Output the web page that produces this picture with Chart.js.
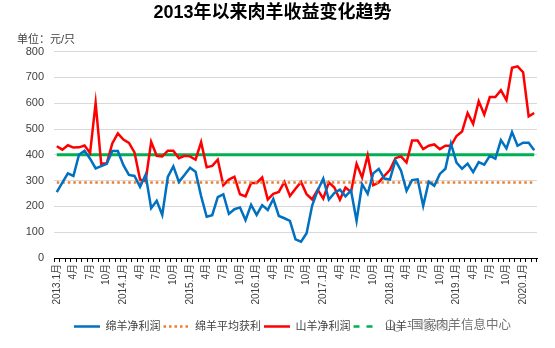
<!DOCTYPE html>
<html>
<head>
<meta charset="utf-8">
<script src="https://cdn.jsdelivr.net/npm/chart.js@4"></script>
<style>
  html, body { margin: 0; padding: 0; background: #fff; }
  #wrap { width: 555px; height: 348px; }
</style>
</head>
<body>
<div id="wrap"><canvas id="chart-rentabilidad"></canvas></div>
<script>
// 月份（2013.1 - 2020.3）
const meses = [
    '2013.1月', '2月', '3月', '4月', '5月', '6月', '7月', '8月', '9月', '10月', '11月', '12月',
    '2014.1月', '2月', '3月', '4月', '5月', '6月', '7月', '8月', '9月', '10月', '11月', '12月',
    '2015.1月', '2月', '3月', '4月', '5月', '6月', '7月', '8月', '9月', '10月', '11月', '12月',
    '2016.1月', '2月', '3月', '4月', '5月', '6月', '7月', '8月', '9月', '10月', '11月', '12月',
    '2017.1月', '2月', '3月', '4月', '5月', '6月', '7月', '8月', '9月', '10月', '11月', '12月',
    '2018.1月', '2月', '3月', '4月', '5月', '6月', '7月', '8月', '9月', '10月', '11月', '12月',
    '2019.1月', '2月', '3月', '4月', '5月', '6月', '7月', '8月', '9月', '10月', '11月', '12月',
    '2020.1月', '2月', '3月'
];

// 绵羊净利润
const mianyangJingli = [
    255, 292, 328, 318, 400, 416, 385, 347, 356, 365, 415, 415,
    360, 322, 318, 276, 323, 193, 222, 167, 314, 355, 295, 322,
    350, 334, 240, 160, 166, 236, 247, 171, 189, 196, 147, 206,
    167, 205, 186, 229, 163, 154, 144, 72, 63, 96, 203, 262,
    308, 226, 252, 265, 239, 262, 144, 286, 249, 328, 345, 308,
    304, 378, 339, 260, 302, 305, 202, 296, 280, 326, 346, 444,
    370, 346, 366, 333, 372, 362, 396, 385, 457, 425, 488, 435,
    447, 447, 418
];

// 山羊净利润
const shanyangJingli = [
    433, 420, 437, 428, 429, 436, 407, 601, 365, 367, 444, 483,
    459, 446, 409, 304, 298, 450, 396, 394, 416, 416, 387, 396,
    394, 381, 449, 352, 357, 381, 282, 304, 315, 247, 239, 291,
    291, 312, 227, 249, 256, 295, 240, 268, 295, 247, 227, 265,
    230, 293, 273, 226, 273, 256, 365, 312, 398, 282, 293, 318,
    341, 387, 394, 370, 455, 455, 422, 435, 440, 422, 435, 435,
    473, 490, 562, 520, 608, 556, 624, 624, 650, 612, 737, 743,
    720, 549, 562
];

// 平均获利
const mianyangPromedio = 293;
const shanyangPromedio = 400;

const yTicks = [0, 100, 200, 300, 400, 500, 600, 700, 800];

const fuente = "'Liberation Sans', 'Noto Sans CJK SC', sans-serif";

const colores = {
    mianyang: '#0070C0',
    mianyangProm: '#ED7D31',
    shanyang: '#FF0000',
    shanyangProm: '#00B050'
};

/**
 * 图例左移一点
 */
const moverLeyenda = {
    id: 'moverLeyenda',
    afterLayout(chart) {
        const lg = chart.legend;
        if (!lg) return;
        lg.left -= 10;
        lg.right -= 10;
        lg.top += 2;
        lg.bottom += 2;
    }
};

/**
 * 单位 + 水印
 */
const textoExtra = {
    id: 'textoExtra',
    afterDraw(chart) {
        const { ctx } = chart;
        ctx.save();
        ctx.font = "11px " + fuente;
        ctx.fillStyle = '#404040';
        ctx.textBaseline = 'middle';
        ctx.textAlign = 'left';
        ctx.fillText('单位：元/只', 17, 40);

        // 水印
        ctx.font = "12.5px " + fuente;
        ctx.lineWidth = 2.5;
        ctx.strokeStyle = 'rgba(255,255,255,0.7)';
        ctx.fillStyle = 'rgba(80,80,80,0.8)';
        ctx.strokeText('国家肉羊信息中心', 411, 326);
        ctx.fillText('国家肉羊信息中心', 411, 326);
        ctx.strokeStyle = 'rgba(120,120,120,0.7)';
        ctx.lineWidth = 1;
        ctx.beginPath();
        ctx.arc(390, 324, 4, 0, Math.PI * 2);
        ctx.stroke();
        ctx.beginPath();
        ctx.arc(397, 328, 3.5, 0, Math.PI * 2);
        ctx.stroke();
        ctx.restore();
    }
};

const ctx = document.getElementById('chart-rentabilidad');

new Chart(ctx, {
    type: 'line',
    data: {
        labels: meses,
        datasets: [
            {
                label: '绵羊净利润',
                data: mianyangJingli,
                borderColor: colores.mianyang,
                borderWidth: 2.5,
                pointRadius: 0,
                tension: 0
            },
            {
                label: '绵羊平均获利',
                data: meses.map(() => mianyangPromedio),
                borderColor: colores.mianyangProm,
                borderWidth: 2.5,
                borderDash: [2.5, 3],
                pointRadius: 0,
                tension: 0
            },
            {
                label: '山羊净利润',
                data: shanyangJingli,
                borderColor: colores.shanyang,
                borderWidth: 2.5,
                pointRadius: 0,
                tension: 0
            },
            {
                label: '山羊平均获利',
                data: meses.map(() => shanyangPromedio),
                borderColor: colores.shanyangProm,
                borderWidth: 3,
                pointRadius: 0,
                tension: 0
            }
        ]
    },
    options: {
        responsive: true,
        maintainAspectRatio: false,
        animation: false,
        layout: {
            padding: { left: 8, right: 18, top: 2, bottom: 8 }
        },
        plugins: {
            title: {
                display: true,
                text: '2013年以来肉羊收益变化趋势',
                color: '#000',
                font: { family: fuente, size: 18, weight: 'bold' },
                padding: { top: 0, bottom: 28 }
            },
            legend: {
                position: 'bottom',
                labels: {
                    color: '#404040',
                    font: { family: fuente, size: 11 },
                    usePointStyle: true,
                    pointStyleWidth: 26,
                    boxHeight: 10,
                    padding: 3,
                    generateLabels(chart) {
                        const dashes = [[], [2.5, 3], [], [6, 7]];
                        return chart.data.datasets.map((ds, i) => ({
                            text: ds.label,
                            strokeStyle: ds.borderColor,
                            fillStyle: ds.borderColor,
                            lineWidth: 2.5,
                            lineDash: dashes[i],
                            pointStyle: 'line',
                            datasetIndex: i,
                            fontColor: '#404040'
                        }));
                    }
                }
            },
            tooltip: { enabled: false }
        },
        scales: {
            x: {
                offset: true,
                grid: {
                    display: true,
                    offset: true,
                    drawOnChartArea: false,
                    drawTicks: true,
                    tickLength: 4,
                    color: '#000'
                },
                border: { display: true, color: '#000', width: 1 },
                ticks: {
                    autoSkip: false,
                    maxRotation: 90,
                    minRotation: 90,
                    padding: 2,
                    color: '#404040',
                    font: { family: fuente, size: 10 },
                    callback: function (value, index) {
                        return index % 3 === 0 ? meses[index] : '';
                    }
                },
                afterFit(scale) { scale.height = 58; }
            },
            y: {
                min: 0,
                max: 800,
                afterBuildTicks(scale) {
                    scale.ticks = yTicks.map(v => ({ value: v }));
                },
                grid: {
                    color: '#d9d9d9',
                    drawTicks: false
                },
                border: { display: false },
                ticks: {
                    padding: 10,
                    color: '#404040',
                    font: { family: fuente, size: 11 }
                },
                afterFit(scale) { scale.width = 46; }
            }
        }
    },
    plugins: [moverLeyenda, textoExtra]
});
</script>
</body>
</html>
